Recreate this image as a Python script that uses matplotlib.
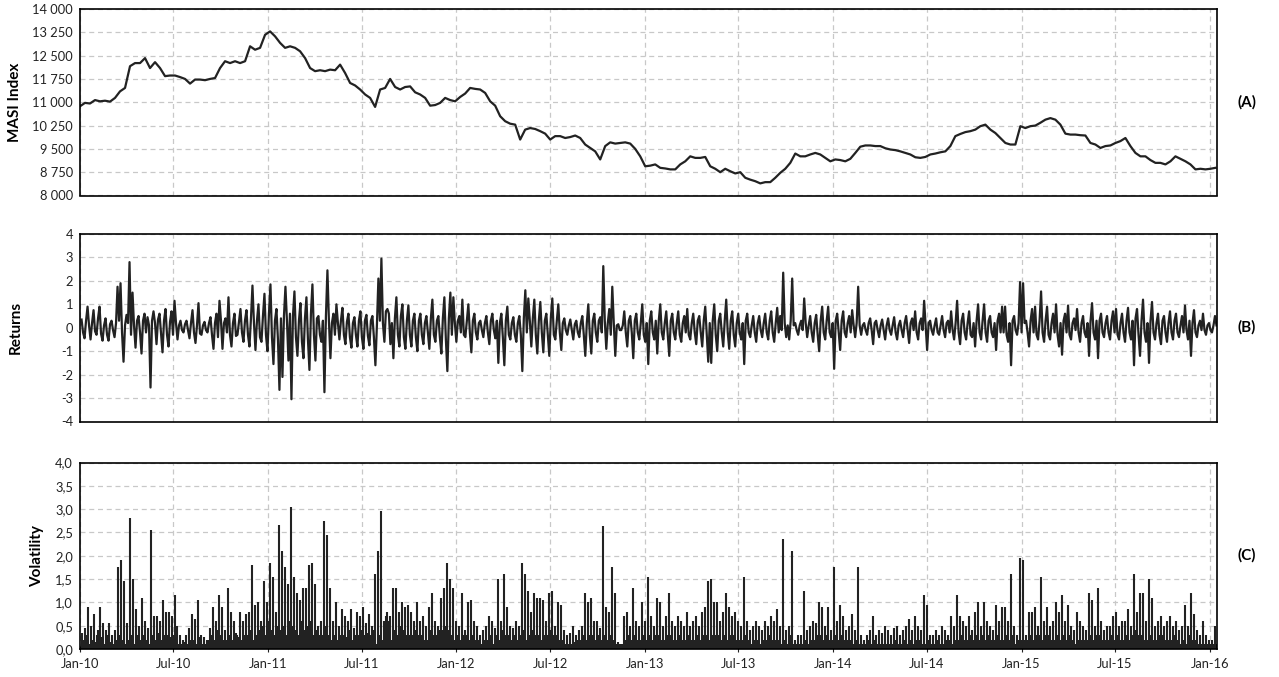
import matplotlib
matplotlib.use("Agg")
import matplotlib.pyplot as plt
import matplotlib.dates as mdates
from matplotlib.ticker import FuncFormatter, MultipleLocator, FixedLocator
import pandas as pd
import numpy as np

plt.rcParams['font.family'] = ['Lato', 'DejaVu Sans']

# ---------------- data ----------------
index_start, index_end = "2010-01-01", "2016-01-12"
index_values = [
    10870, 10980, 10960, 11070, 11030, 11050, 11020, 11140, 11350, 11460,
    12160, 12260, 12260, 12420, 12100, 12290, 12100, 11840, 11860, 11860,
    11810, 11750, 11600, 11730, 11730, 11710, 11750, 11780, 12100, 12320,
    12260, 12320, 12260, 12320, 12800, 12690, 12750, 13170, 13280, 13120,
    12910, 12750, 12800, 12750, 12640, 12420, 12100, 12000, 12030, 12000,
    12050, 12030, 12210, 11940, 11620, 11540, 11410, 11250, 11140, 10850,
    11410, 11460, 11750, 11490, 11410, 11490, 11510, 11320, 11250, 11140,
    10890, 10910, 10980, 11140, 11070, 11030, 11170, 11280, 11460, 11430,
    11410, 11300, 11030, 10890, 10550, 10390, 10310, 10280, 9800, 10120,
    10170, 10140, 10070, 9990, 9800, 9910, 9910, 9850, 9880, 9930,
    9850, 9640, 9530, 9420, 9160, 9590, 9710, 9670, 9690, 9710,
    9670, 9500, 9260, 8940, 8960, 9000, 8890, 8870, 8840, 8840,
    9000, 9100, 9260, 9210, 9210, 9240, 8940, 8860, 8750, 8860,
    8780, 8710, 8750, 8570, 8510, 8460, 8390, 8430, 8430, 8570,
    8730, 8860, 9050, 9350, 9260, 9260, 9320, 9370, 9320, 9210,
    9100, 9160, 9140, 9100, 9180, 9370, 9570, 9610, 9610, 9590,
    9590, 9520, 9480, 9460, 9420, 9370, 9320, 9230, 9210, 9240,
    9320, 9350, 9390, 9420, 9590, 9910, 9980, 10040, 10070, 10120,
    10230, 10280, 10120, 10010, 9850, 9690, 9640, 9640, 10230, 10170,
    10230, 10250, 10340, 10440, 10490, 10440, 10280, 9990, 9960, 9960,
    9940, 9930, 9690, 9640, 9530, 9590, 9610, 9690, 9750, 9850,
    9590, 9370, 9260, 9260, 9140, 9050, 9050, 9000, 9100, 9260,
    9180, 9100, 9000, 8840, 8860, 8840, 8860, 8890,
]

returns_start, returns_end = "2010-01-04", "2016-01-14"
returns = [
    # 2010 - mid 2011
    0.35, -0.2, -0.45, 0.3, 0.9, 0.1, -0.5, 0.2, 0.75, -0.15, -0.3, 0.4, 0.9, -0.25, -0.55, 0.1, 0.4, -0.3, -0.55, 0.15,
    0.3, -0.1, -0.4, 0.2, 1.75, 0.3, 1.9, -0.2, -1.45, 0.1, 0.55, 0.2, 2.8, -0.3, 1.5, 0.1, -0.85, 0.3, 0.5, -0.2,
    -1.1, 0.3, 0.6, -0.2, 0.45, 0.1, -2.55, 0.3, 0.7, 0.2, -0.7, 0.35, 0.6, -0.2, -1.05, 0.3, 0.8, -0.3, -0.8, 0.25,
    0.7, -0.3, 1.15, 0.2, -0.5, 0.1, 0.3, -0.1, -0.2, 0.15, 0.3, -0.1, -0.45, 0.2, 0.75, -0.2, -0.65, 0.1, 1.05, -0.25,
    -0.3, 0.1, 0.25, -0.1, -0.2, 0.2, 0.45, -0.3, -0.9, 0.2, 0.6, -0.4, 1.15, 0.3, -0.9, 0.2, 0.4, -0.2, 1.3, -0.3,
    -0.8, 0.2, 0.6, -0.35, -0.3, 0.25, 0.8, -0.2, -0.6, 0.3, 0.75, -0.3, -0.8, 0.4, 1.8, 0.2, -0.95, 0.3, 1.0, -0.4,
    -0.6, 0.5, 1.45, -0.3, -1.0, 0.6, 1.85, -0.4, -1.55, 0.3, 0.8, -0.5, -2.65, 0.4, -2.1, 0.5, 1.75, 0.3, -1.4, 0.6,
    -3.05, 0.5, 1.55, -0.4, -1.2, 0.3, 1.05, -0.6, -1.3, 0.4, 1.3, -0.5, -1.8, 0.6, 1.85, -0.3, -1.4, 0.4, 0.5, -0.3,
    -0.6, 0.3, -2.75, 0.5, 2.45, 0.3, -1.3, 0.2, 0.6, -0.3, 1.0, 0.2, -0.5, 0.3, 0.85, -0.3, -0.7, 0.25, 0.6, -0.4,
    -0.85, 0.2, 0.45, -0.3, -0.8, 0.3, 0.7, -0.4, -0.9, 0.3, 0.55, -0.35, -0.75, 0.3, 0.5, -0.4, -1.6, 0.1, 2.1, 0.3,
    2.95, 0.2, -0.6, 0.7, 0.8, 0.6, -0.7, 0.2, -1.3, 0.4, 1.3, -0.3, -0.8, 0.5, 1.0, -0.4, -0.9, 0.3, 0.95, -0.3,
    -0.8, 0.3, 0.6, -0.4, -1.0, 0.3,
    # late 2011 - late 2013
    0.6, -0.3, -0.7, 0.2, 0.5, -0.2, -0.9, 0.4, 1.2, -0.3, -0.6, 0.3, 0.5, -0.4, -1.1, 0.4, 1.3, -0.5, -1.85, 0.4,
    1.5, -0.3, 1.3, 0.2, -0.6, 0.3, 0.5, -0.2, 1.2, -0.3, -0.4, 0.3, 1.0, -0.2, -1.05, 0.3, 0.6, -0.2, -0.5, 0.2,
    0.3, -0.1, -0.4, 0.2, 0.5, -0.2, -0.7, 0.3, 0.6, -0.1, -0.45, 0.3, -1.5, 0.2, 0.6, -0.4, -1.6, 0.3, 0.9, -0.3,
    -0.5, 0.2, 0.45, -0.3, -0.6, 0.2, 0.5, -0.3, -1.85, 0.4, 1.6, -0.2, 1.25, 0.3, -0.8, 0.4, 1.2, -0.3, -1.1, 0.3,
    1.1, -0.2, -1.05, 0.3, 0.6, -0.3, -1.2, 0.4, 1.25, -0.3, -0.5, 0.3, 1.0, -0.2, -0.95, 0.2, 0.4, -0.1, -0.3, 0.1,
    0.35, -0.1, -0.5, 0.15, 0.3, -0.2, -0.4, 0.2, 0.5, -0.3, -1.2, 0.2, 1.0, -0.3, -1.1, 0.3, 0.6, -0.2, -0.6, 0.3,
    0.45, -0.2, 2.63, 0.3, -0.9, 0.2, 0.8, -0.3, 1.75, 0.2, -1.2, 0.1, 0.15, -0.1, -0.1, 0.1, 0.7, -0.2, -0.8, 0.3,
    0.5, -0.2, -1.3, 0.3, 0.6, -0.2, -0.5, 0.2, 1.0, -0.3, -0.6, 0.2, -1.55, 0.3, 0.7, -0.2, -0.5, 0.3, -1.1, 0.3,
    1.0, -0.2, -0.5, 0.2, 0.7, -0.3, -1.2, 0.3, 0.6, -0.2, -0.5, 0.2, 0.7, -0.3, -0.6, 0.2, 0.5, -0.2, 0.8, -0.3,
    -0.5, 0.2, 0.6, -0.2, -0.7, 0.3, 0.5, -0.2, -0.8, 0.3, 0.9, -0.3, -1.45, 0.2, -1.5, 0.3, 1.0, -0.3, -1.0, 0.3,
    0.6, -0.2, -0.8, 0.3, 1.2, -0.2, -0.9, 0.3, 0.7, -0.3, -0.8, 0.2, 0.6, -0.2, -0.5, 0.2, -1.55, 0.3, 0.6, -0.2,
    -0.4, 0.1, 0.5, -0.2, -0.6, 0.2, 0.5, -0.1, -0.4, 0.2, 0.6, -0.2, -0.5, 0.3, 0.7, -0.2, -0.6, 0.2, 0.85, -0.2,
    0.5, -0.1, 2.35, 0.2, -0.4, 0.1, -0.5, 0.3, 2.1, 0.1, 0.2, -0.1, -0.3, 0.1, 0.3, -0.1, 1.25, 0.2, -0.4, 0.1,
    0.5, -0.2, -0.6, 0.2, 0.55, -0.3, -1.0, 0.3,
    # late 2013 - 2016
    0.9, -0.2, -0.5, 0.3, 0.9, -0.2, -0.4, 0.2, -1.75, 0.3, 0.6, -0.2, -0.95, 0.3, 0.7, -0.2, -0.4, 0.2, 0.5, -0.2,
    0.75, 0.1, -0.4, 0.2, 1.75, 0.1, -0.3, 0.1, 0.2, -0.1, -0.3, 0.2, 0.4, -0.1, -0.7, 0.2, 0.3, -0.1, -0.4, 0.1,
    0.35, -0.1, -0.5, 0.1, 0.4, -0.1, -0.3, 0.1, 0.45, -0.2, -0.5, 0.1, 0.3, -0.1, -0.4, 0.2, 0.5, -0.1, -0.65, 0.2,
    0.4, -0.1, 0.7, -0.2, -0.5, 0.2, 0.4, -0.1, 1.15, 0.1, -0.95, 0.2, 0.3, -0.1, -0.3, 0.1, 0.4, -0.2, -0.3, 0.1,
    0.5, -0.1, -0.4, 0.2, 0.3, -0.2, 0.7, -0.1, -0.5, 0.2, 1.15, -0.2, -0.7, 0.3, 0.6, -0.2, -0.5, 0.2, 0.7, -0.3,
    -0.4, 0.2, -0.8, 0.3, 1.0, -0.2, -0.5, 0.3, 1.0, -0.2, -0.6, 0.3, 0.5, -0.2, -0.4, 0.2, -0.95, 0.3, 0.6, -0.2,
    0.9, -0.2, 0.9, -0.3, -0.6, 0.2, -1.6, 0.3, 0.5, -0.1, -0.3, 0.2, 1.95, -0.2, 1.9, 0.2, 0.3, -0.2, -0.8, 0.3,
    0.8, -0.2, 0.9, -0.3, -0.5, 0.3, 1.55, -0.2, -0.6, 0.3, 0.9, -0.3, -0.5, 0.2, 0.6, -0.2, 1.0, -0.3, -0.8, 0.2,
    -1.15, 0.3, 0.6, -0.2, 0.95, -0.3, -0.5, 0.2, 0.4, -0.1, 0.8, -0.2, -0.6, 0.2, 0.5, -0.2, -0.4, 0.2, -1.2, 0.3,
    1.05, -0.2, -0.5, 0.3, -1.3, 0.3, 0.6, -0.2, -0.4, 0.2, 0.5, -0.2, -0.5, 0.3, 0.7, -0.2, 0.8, -0.3, -0.5, 0.2,
    0.6, -0.2, -0.6, 0.3, 0.85, -0.2, -0.5, 0.3, -1.6, 0.4, 0.8, -0.3, -1.2, 0.3, 1.2, -0.2, -0.6, 0.2, -1.5, 0.3,
    1.1, -0.2, -0.5, 0.2, 0.6, -0.3, -0.7, 0.3, 0.5, -0.2, -0.6, 0.2, 0.7, -0.2, -0.5, 0.3, 0.6, -0.2, -0.4, 0.1,
    0.5, -0.2, 0.95, -0.1, -0.5, 0.3, -1.2, 0.2, 0.75, -0.2, -0.4, 0.1, 0.3, -0.1, 0.6, -0.1, -0.3, 0.1, 0.2, -0.1,
    -0.2, 0.1, 0.5, 0.1,
]
volatility = [abs(r) for r in returns]

panel_labels = ["(A)", "(B)", "(C)"]
y_titles = ["MASI Index", "Returns", "Volatility"]
index_ticks = [8000, 8750, 9500, 10250, 11000, 11750, 12500, 13250, 14000]

# ---------------- figure ----------------
index_dates = pd.date_range(index_start, index_end, periods=len(index_values))
ret_dates = pd.date_range(returns_start, returns_end, periods=len(returns))

W, H = 1279, 677
fig = plt.figure(figsize=(W / 100, H / 100), dpi=100)

def rect(top, bottom, left=80, right=1217):
    return [left / W, 1 - bottom / H, (right - left) / W, (bottom - top) / H]

ax1 = fig.add_axes(rect(9, 195.5))
ax2 = fig.add_axes(rect(234, 421.5))
ax3 = fig.add_axes(rect(462.5, 649))

line_color = "#222222"
xmin, xmax = pd.Timestamp("2010-01-01"), pd.Timestamp("2016-01-15")

ax1.plot(index_dates, index_values, color=line_color, lw=1.6)
ax2.plot(ret_dates, returns, color=line_color, lw=1.6)
ax3.vlines(ret_dates, 0, volatility, color=line_color, lw=1.5)

ax1.set_ylim(8000, 14000)
ax1.yaxis.set_major_locator(FixedLocator(index_ticks))
ax1.yaxis.set_major_formatter(FuncFormatter(lambda v, p: f"{int(round(v)):,}".replace(",", " ")))
ax2.set_ylim(-4, 4)
ax2.yaxis.set_major_locator(MultipleLocator(1))
ax2.yaxis.set_major_formatter(FuncFormatter(lambda v, p: f"{int(round(v))}"))
ax3.set_ylim(0, 4)
ax3.yaxis.set_major_locator(MultipleLocator(0.5))
ax3.yaxis.set_major_formatter(FuncFormatter(lambda v, p: f"{v:.1f}".replace(".", ",")))

label_x = [-0.051, -0.050, -0.032]
for ax, lab, yt, lx in zip([ax1, ax2, ax3], panel_labels, y_titles, label_x):
    ax.set_xlim(xmin, xmax)
    ax.xaxis.set_major_locator(mdates.MonthLocator(bymonth=[1, 7]))
    ax.xaxis.set_major_formatter(mdates.DateFormatter("%b-%y"))
    ax.grid(True, color="#c8c8c8", linestyle=(0, (4, 3)), linewidth=0.9)
    ax.set_axisbelow(True)
    for s in ax.spines.values():
        s.set_color("black")
        s.set_linewidth(1.2)
    ax.tick_params(axis="y", length=0, labelsize=9.3, pad=5, colors="#222222")
    ax.set_ylabel(yt, fontsize=11, fontweight="bold")
    ax.yaxis.set_label_coords(lx, 0.5)
    ax.text(1.0265, 0.5, lab, transform=ax.transAxes, fontsize=11,
            fontweight="bold", ha="center", va="center")

for ax in (ax1, ax2):
    ax.tick_params(axis="x", length=0, labelbottom=False)
ax3.tick_params(axis="x", direction="inout", length=5, labelsize=9.3, pad=4, colors="#222222")

fig.savefig("out.png", dpi=100)
